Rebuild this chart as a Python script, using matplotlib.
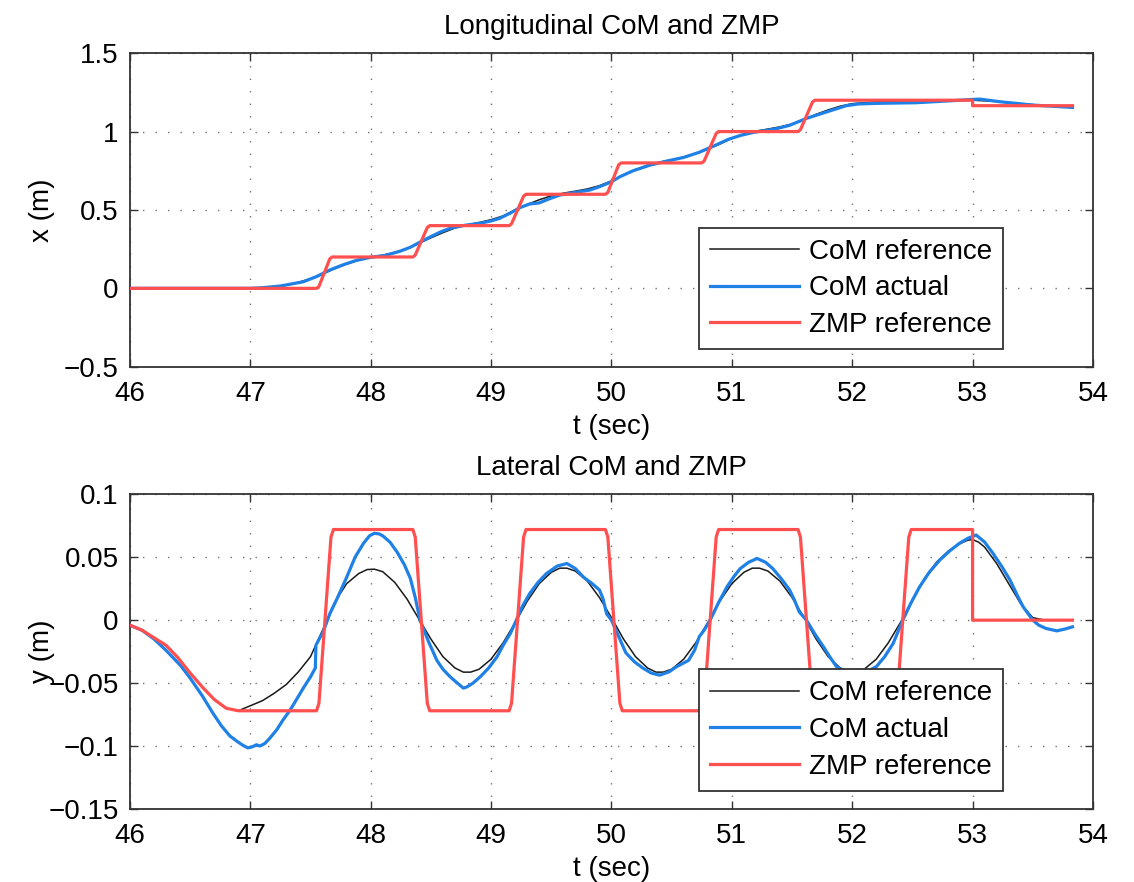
import matplotlib
matplotlib.use("Agg")
import matplotlib.pyplot as plt

# ---------------- data ----------------
# Longitudinal (top)
lon_ref_t = [46.0, 47.0, 47.1, 47.2, 47.3, 47.4, 47.5, 47.6, 47.7, 47.8, 47.9, 48.0, 48.1, 48.2, 48.3,
             48.4, 48.5, 48.6, 48.7, 48.8, 48.9, 49.0, 49.1, 49.2, 49.3, 49.4, 49.5, 49.6, 49.7, 49.8,
             49.9, 50.0, 50.1, 50.2, 50.3, 50.4, 50.5, 50.6, 50.7, 50.8, 50.9, 51.0, 51.1, 51.2, 51.3,
             51.4, 51.5, 51.6, 51.7, 51.8, 51.9, 52.0, 52.2, 52.5, 53.0, 53.2, 53.4, 53.6, 53.83]
lon_ref_x = [0.0, 0.0, 0.003, 0.009, 0.02, 0.038, 0.062, 0.092, 0.125, 0.155, 0.18, 0.198, 0.212, 0.228, 0.252,
             0.288, 0.322, 0.355, 0.385, 0.405, 0.42, 0.438, 0.462, 0.5, 0.535, 0.565, 0.59, 0.607, 0.62, 0.634,
             0.655, 0.685, 0.722, 0.758, 0.785, 0.805, 0.82, 0.838, 0.86, 0.888, 0.92, 0.958, 0.985, 1.003, 1.016,
             1.03, 1.048, 1.078, 1.11, 1.138, 1.162, 1.178, 1.19, 1.196, 1.2, 1.192, 1.178, 1.166, 1.16]

lon_act_t = [46.0, 47.0, 47.1, 47.25, 47.44, 47.55, 47.66, 47.77, 47.88, 48.0, 48.12, 48.24, 48.33, 48.41,
             48.5, 48.58, 48.66, 48.78, 48.91, 49.0, 49.07, 49.16, 49.24, 49.32, 49.4, 49.48, 49.57, 49.7,
             49.82, 49.9, 50.0, 50.07, 50.18, 50.32, 50.45, 50.6, 50.73, 50.87, 50.97, 51.07, 51.18, 51.29,
             51.38, 51.48, 51.56, 51.62, 51.79, 51.95, 52.05, 52.2, 52.53, 52.81, 53.0, 53.06, 53.23, 53.5, 53.83]
lon_act_x = [0.0, 0.0, 0.004, 0.015, 0.042, 0.075, 0.117, 0.15, 0.178, 0.198, 0.21, 0.236, 0.262, 0.295,
             0.33, 0.36, 0.383, 0.402, 0.415, 0.43, 0.446, 0.48, 0.515, 0.538, 0.545, 0.57, 0.595, 0.612,
             0.627, 0.648, 0.68, 0.712, 0.75, 0.786, 0.81, 0.835, 0.868, 0.915, 0.95, 0.975, 0.995, 1.008,
             1.02, 1.04, 1.065, 1.084, 1.126, 1.165, 1.176, 1.18, 1.184, 1.196, 1.205, 1.207, 1.19, 1.169, 1.154]

lon_zmp_t = [46.0, 47.55, 47.57, 47.66, 47.68, 48.35, 48.37, 48.47, 48.49, 49.15, 49.17, 49.27, 49.29,
             49.95, 49.97, 50.06, 50.08, 50.75, 50.77, 50.87, 50.89, 51.55, 51.57, 51.67, 51.69, 53.0, 53.0, 53.83]
lon_zmp_x = [0.0, 0.0, 0.012, 0.188, 0.2, 0.2, 0.212, 0.388, 0.4, 0.4, 0.412, 0.588, 0.6,
             0.6, 0.612, 0.788, 0.8, 0.8, 0.812, 0.988, 1.0, 1.0, 1.012, 1.188, 1.2, 1.2, 1.165, 1.165]

# Lateral (bottom)
lat_ref_t = [46.0, 46.1, 46.2, 46.3, 46.4, 46.5, 46.6, 46.7, 46.8, 46.9, 47.0, 47.1, 47.2, 47.3, 47.4,
             47.5, 47.6, 47.7, 47.8, 47.9, 47.97, 48.03, 48.1, 48.2, 48.3, 48.4, 48.5, 48.6, 48.7, 48.77,
             48.83, 48.9, 49.0, 49.1, 49.2, 49.3, 49.4, 49.5, 49.57, 49.63, 49.7, 49.8, 49.9, 50.0, 50.1,
             50.2, 50.3, 50.37, 50.43, 50.5, 50.6, 50.7, 50.8, 50.9, 51.0, 51.1, 51.17, 51.23, 51.3, 51.4,
             51.5, 51.6, 51.7, 51.8, 51.9, 51.97, 52.03, 52.1, 52.2, 52.3, 52.4, 52.5, 52.6, 52.7, 52.8,
             52.9, 52.96, 53.0, 53.05, 53.1, 53.2, 53.3, 53.4, 53.5, 53.6, 53.83]
lat_ref_y = [-0.004, -0.008, -0.014, -0.020, -0.030, -0.042, -0.053, -0.063, -0.070, -0.072, -0.068, -0.064,
             -0.058, -0.051, -0.041, -0.029, -0.008, 0.014, 0.029, 0.037, 0.0402, 0.0405, 0.0385, 0.030, 0.017,
             0.001, -0.015, -0.029, -0.038, -0.0413, -0.0413, -0.039, -0.031, -0.018, -0.002, 0.015, 0.029,
             0.038, 0.0413, 0.0413, 0.039, 0.031, 0.018, 0.002, -0.015, -0.029, -0.038, -0.0413, -0.0413,
             -0.039, -0.031, -0.018, -0.002, 0.015, 0.029, 0.038, 0.0413, 0.0413, 0.039, 0.031, 0.018, 0.002,
             -0.015, -0.029, -0.038, -0.0413, -0.0413, -0.039, -0.031, -0.018, -0.002, 0.016, 0.033, 0.046,
             0.055, 0.061, 0.0635, 0.064, 0.062, 0.058, 0.045, 0.029, 0.013, 0.002, 0.0, 0.0]

lat_act_t = [46.0, 46.1, 46.2, 46.3, 46.42, 46.5, 46.6, 46.69, 46.76, 46.83, 46.9, 46.94, 46.98, 47.02,
             47.05, 47.08, 47.12, 47.16, 47.22, 47.27, 47.33, 47.38, 47.44, 47.5, 47.54, 47.545, 47.61,
             47.66, 47.72, 47.8, 47.87, 47.94, 47.99, 48.03, 48.07, 48.1, 48.16, 48.22, 48.28, 48.33,
             48.37, 48.41, 48.48, 48.55, 48.6, 48.66, 48.72, 48.77, 48.8, 48.85, 48.91, 48.98, 49.05, 49.1,
             49.16, 49.21, 49.26, 49.32, 49.39, 49.46, 49.55, 49.63, 49.7, 49.77, 49.84, 49.9, 49.93, 49.96,
             50.0, 50.06, 50.12, 50.19, 50.26, 50.33, 50.4, 50.48, 50.54, 50.6, 50.64, 50.69, 50.73, 50.77,
             50.82, 50.89, 50.96, 51.02, 51.07, 51.14, 51.21, 51.28, 51.34, 51.41, 51.48, 51.52, 51.56,
             51.62, 51.69, 51.76, 51.82, 51.87, 51.95, 52.04, 52.12, 52.2, 52.27, 52.34, 52.42, 52.49,
             52.56, 52.64, 52.73, 52.81, 52.89, 52.96, 53.03, 53.1, 53.17, 53.24, 53.31, 53.37, 53.42,
             53.5, 53.55, 53.61, 53.7, 53.77, 53.83]
lat_act_y = [-0.004, -0.008, -0.015, -0.024, -0.036, -0.046, -0.060, -0.074, -0.084, -0.092, -0.097,
             -0.0995, -0.1015, -0.1005, -0.099, -0.100, -0.098, -0.094, -0.087, -0.0795, -0.0715, -0.0636,
             -0.054, -0.045, -0.038, -0.020, -0.008, 0.005, 0.017, 0.034, 0.050, 0.061, 0.067, 0.069, 0.0685,
             0.067, 0.062, 0.054, 0.044, 0.033, 0.018, 0.0, -0.017, -0.032, -0.039, -0.045, -0.050, -0.054,
             -0.053, -0.050, -0.045, -0.038, -0.029, -0.020, -0.0106, 0.0, 0.011, 0.021, 0.030, 0.037, 0.043,
             0.045, 0.041, 0.034, 0.029, 0.024, 0.017, 0.005, 0.0, -0.013, -0.026, -0.033, -0.038, -0.042,
             -0.0437, -0.041, -0.037, -0.034, -0.032, -0.024, -0.013, -0.008, 0.0, 0.014, 0.0265, 0.035,
             0.041, 0.046, 0.049, 0.046, 0.041, 0.033, 0.024, 0.016, 0.0066, 0.0, -0.011, -0.021, -0.030,
             -0.037, -0.041, -0.042, -0.041, -0.037, -0.029, -0.0185, 0.0, 0.014, 0.0265, 0.038, 0.048,
             0.055, 0.061, 0.065, 0.0676, 0.062, 0.053, 0.043, 0.032, 0.020, 0.0106, 0.0, -0.004, -0.0066,
             -0.0085, -0.007, -0.0053]

lat_zmp_t = [46.0, 46.1, 46.2, 46.3, 46.4, 46.5, 46.6, 46.7, 46.8, 46.9,
             47.55, 47.57, 47.67, 47.69, 48.35, 48.37, 48.47, 48.49, 49.15, 49.17, 49.27, 49.29,
             49.95, 49.97, 50.07, 50.09, 50.75, 50.77, 50.87, 50.89, 51.55, 51.57, 51.67, 51.69,
             52.35, 52.37, 52.47, 52.49, 53.0, 53.0, 53.83]
lat_zmp_y = [-0.004, -0.008, -0.014, -0.020, -0.030, -0.042, -0.053, -0.063, -0.070, -0.072,
             -0.072, -0.066, 0.066, 0.072, 0.072, 0.066, -0.066, -0.072, -0.072, -0.066, 0.066, 0.072,
             0.072, 0.066, -0.066, -0.072, -0.072, -0.066, 0.066, 0.072, 0.072, 0.066, -0.066, -0.072,
             -0.072, -0.066, 0.066, 0.072, 0.072, 0.0, 0.0]

x_ticks = [46, 47, 48, 49, 50, 51, 52, 53, 54]
top_yticks = [-0.5, 0, 0.5, 1, 1.5]
top_yticklabels = ["\u22120.5", "0", "0.5", "1", "1.5"]
bot_yticks = [-0.15, -0.1, -0.05, 0, 0.05, 0.1]
bot_yticklabels = ["\u22120.15", "\u22120.1", "\u22120.05", "0", "0.05", "0.1"]
legend_labels = ["CoM reference", "CoM actual", "ZMP reference"]
titles = ["Longitudinal CoM and ZMP", "Lateral CoM and ZMP"]
ylabels = ["x (m)", "y (m)"]

# ---------------- style ----------------
plt.rcParams['font.family'] = ['Liberation Sans', 'DejaVu Sans']
FS = 20
C_REF = '#1a1a1a'
C_ACT = '#1f80e6'
C_ZMP = '#ff4f4f'

fig = plt.figure(figsize=(11.34, 8.82), dpi=100)
ax1 = fig.add_axes([0.1146, 0.5842, 0.8492, 0.3555])
ax2 = fig.add_axes([0.1146, 0.0828, 0.8492, 0.3568])

panels = [
    (ax1, (lon_ref_t, lon_ref_x), (lon_act_t, lon_act_x), (lon_zmp_t, lon_zmp_x),
     (-0.5, 1.5), top_yticks, top_yticklabels, 0.0565),
    (ax2, (lat_ref_t, lat_ref_y), (lat_act_t, lat_act_y), (lat_zmp_t, lat_zmp_y),
     (-0.15, 0.1), bot_yticks, bot_yticklabels, 0.058),
]

for i, (ax, ref, act, zmp, ylim, yt, ytl, leg_y) in enumerate(panels):
    ax.plot(*ref, color=C_REF, lw=1.1, label=legend_labels[0], zorder=3)
    ax.plot(*act, color=C_ACT, lw=2.3, label=legend_labels[1], zorder=4)
    ax.plot(*zmp, color=C_ZMP, lw=2.3, label=legend_labels[2], zorder=5)
    ax.set_xlim(46, 54)
    ax.set_ylim(*ylim)
    ax.set_xticks(x_ticks)
    ax.set_xticklabels([str(v) for v in x_ticks])
    ax.set_yticks(yt)
    ax.set_yticklabels(ytl)
    ax.grid(True, color='0.45', linestyle=(0, (1, 8)), linewidth=1.0)
    ax.tick_params(direction='in', length=6, width=1.0, top=True, right=True,
                   labelsize=FS, color='0.2')
    ax.tick_params(axis='x', pad=10)
    ax.tick_params(axis='y', pad=8)
    for s in ax.spines.values():
        s.set_linewidth(1.3)
        s.set_color('0.2')
    ax.set_title(titles[i], fontsize=FS, pad=14)
    ax.set_xlabel("t (sec)", fontsize=FS, labelpad=5)
    ax.set_ylabel(ylabels[i], fontsize=FS)
    ax.yaxis.set_label_coords(-0.078, 0.5)
    leg = ax.legend(loc='lower right', bbox_to_anchor=(0.9066, leg_y), fontsize=FS,
                    frameon=True, fancybox=False, framealpha=1.0, edgecolor='0.2',
                    borderpad=0.4, handlelength=3.2, handletextpad=0.35, labelspacing=0.38,
                    borderaxespad=0.0)
    leg.get_frame().set_linewidth(1.3)
    leg.set_zorder(10)

fig.savefig("out.png", dpi=100)
